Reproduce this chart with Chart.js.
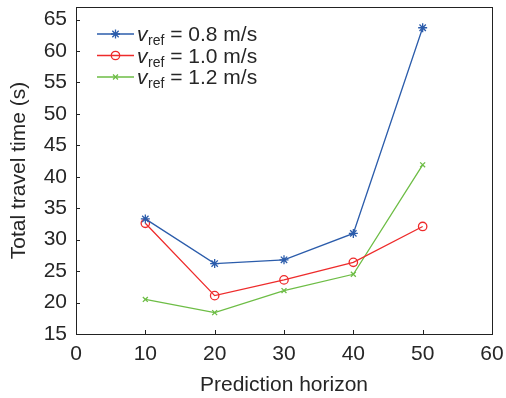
<!DOCTYPE html>
<html>
<head>
<meta charset="utf-8">
<script src="https://cdn.jsdelivr.net/npm/chart.js@4"></script>
<style>
    html, body { margin: 0; padding: 0; background: #fff; }
</style>
</head>
<body>
<canvas id="travelChart" width="506" height="398"></canvas>
<script>
// values
const horizons = [10, 20, 30, 40, 50];
const time08 = [33.3, 26.2, 26.8, 31.0, 63.7];
const time10 = [32.6, 21.1, 23.6, 26.4, 32.1];
const time12 = [20.5, 18.4, 21.9, 24.5, 41.9];
const speedLabels = ['0.8', '1.0', '1.2'];
const xTicks = [0, 10, 20, 30, 40, 50, 60];
const yTicks = [15, 20, 25, 30, 35, 40, 45, 50, 55, 60, 65];

const FONT = '"Liberation Sans", Arial, Helvetica, sans-serif';
const TEXT = '#262626';
const colors = ['#2b5cab', '#ee2b2b', '#6dbd45'];
const markers = ['star', 'circle', 'crossRot'];
const markerSize = [4.5, 4.2, 3.5];

function toPoints(ys) {
    return horizons.map(function (x, i) { return { x: x, y: ys[i] }; });
}

const series = [time08, time10, time12];
const datasets = series.map(function (ys, i) {
    return {
        label: 'v_ref = ' + speedLabels[i] + ' m/s',
        data: toPoints(ys),
        borderColor: colors[i],
        backgroundColor: 'rgba(0,0,0,0)',
        borderWidth: 1.3,
        pointStyle: markers[i],
        pointRadius: markerSize[i],
        pointBorderColor: colors[i],
        pointBackgroundColor: 'rgba(0,0,0,0)',
        pointBorderWidth: 1.3,
        fill: false,
        tension: 0
    };
});

// box, inward tick marks and the legend with subscript text
const framePlugin = {
    id: 'frame',
    afterDraw: function (chart) {
        const ctx = chart.ctx;
        const a = chart.chartArea;
        const xs = chart.scales.x;
        const ys = chart.scales.y;
        ctx.save();
        ctx.strokeStyle = '#222';
        ctx.lineWidth = 1;
        ctx.strokeRect(Math.round(a.left) + 0.5, Math.round(a.top) + 0.5,
            Math.round(a.right - a.left), Math.round(a.bottom - a.top));
        xTicks.forEach(function (v) {
            const px = Math.round(xs.getPixelForValue(v)) + 0.5;
            ctx.beginPath();
            ctx.moveTo(px, a.bottom);
            ctx.lineTo(px, a.bottom - 4);
            ctx.stroke();
        });
        yTicks.forEach(function (v) {
            const py = Math.round(ys.getPixelForValue(v)) + 0.5;
            ctx.beginPath();
            ctx.moveTo(a.left, py);
            ctx.lineTo(a.left + 4, py);
            ctx.stroke();
        });

        // legend
        const rowY = [34, 55.5, 77];
        chart.data.datasets.forEach(function (ds, i) {
            const y = rowY[i];
            ctx.strokeStyle = ds.borderColor;
            ctx.fillStyle = 'rgba(0,0,0,0)';
            ctx.lineWidth = 1.3;
            ctx.beginPath();
            ctx.moveTo(97, y);
            ctx.lineTo(134, y);
            ctx.stroke();
            Chart.helpers.drawPoint(ctx, {
                pointStyle: ds.pointStyle,
                radius: ds.pointRadius,
                borderWidth: 1.3
            }, 115.5, y);

            ctx.fillStyle = TEXT;
            ctx.textBaseline = 'alphabetic';
            ctx.textAlign = 'left';
            let x = 137;
            ctx.font = 'italic 21px ' + FONT;
            ctx.fillText('v', x, y + 7);
            x += ctx.measureText('v').width + 0.5;
            ctx.font = '14px ' + FONT;
            ctx.fillText('ref', x, y + 11);
            x += ctx.measureText('ref').width;
            ctx.font = '21px ' + FONT;
            ctx.fillText(' = ' + speedLabels[i] + ' m/s', x, y + 7);
        });
        ctx.restore();
    }
};

const ctx = document.getElementById('travelChart').getContext('2d');
const travelChart = new Chart(ctx, {
    type: 'line',
    data: { datasets: datasets },
    options: {
        responsive: false,
        animation: false,
        layout: { padding: { top: 7, right: 14, left: 0, bottom: 0 } },
        plugins: {
            legend: { display: false },
            tooltip: { enabled: false }
        },
        scales: {
            x: {
                type: 'linear',
                min: 0,
                max: 60,
                afterBuildTicks: function (scale) {
                    scale.ticks = xTicks.map(function (v) { return { value: v }; });
                },
                afterFit: function (scale) {
                    scale.height = 64;
                    scale.paddingLeft = 0;
                    scale.paddingRight = 0;
                },
                grid: { display: false, drawTicks: false },
                border: { display: false },
                ticks: {
                    padding: 8,
                    color: TEXT,
                    font: { family: FONT, size: 21 },
                    maxRotation: 0
                },
                title: {
                    display: true,
                    text: 'Prediction horizon',
                    color: TEXT,
                    font: { family: FONT, size: 21 },
                    padding: { top: 3, bottom: 0 }
                }
            },
            y: {
                min: 15,
                max: 67,
                afterBuildTicks: function (scale) {
                    scale.ticks = yTicks.map(function (v) { return { value: v }; });
                },
                afterFit: function (scale) {
                    scale.width = 76;
                    scale.paddingTop = 0;
                    scale.paddingBottom = 0;
                },
                grid: { display: false, drawTicks: false },
                border: { display: false },
                ticks: {
                    padding: 9,
                    color: TEXT,
                    font: { family: FONT, size: 21 }
                },
                title: {
                    display: true,
                    text: 'Total travel time (s)',
                    color: TEXT,
                    font: { family: FONT, size: 21 },
                    padding: { top: 7, bottom: 0 }
                }
            }
        }
    },
    plugins: [framePlugin]
});
</script>
</body>
</html>
